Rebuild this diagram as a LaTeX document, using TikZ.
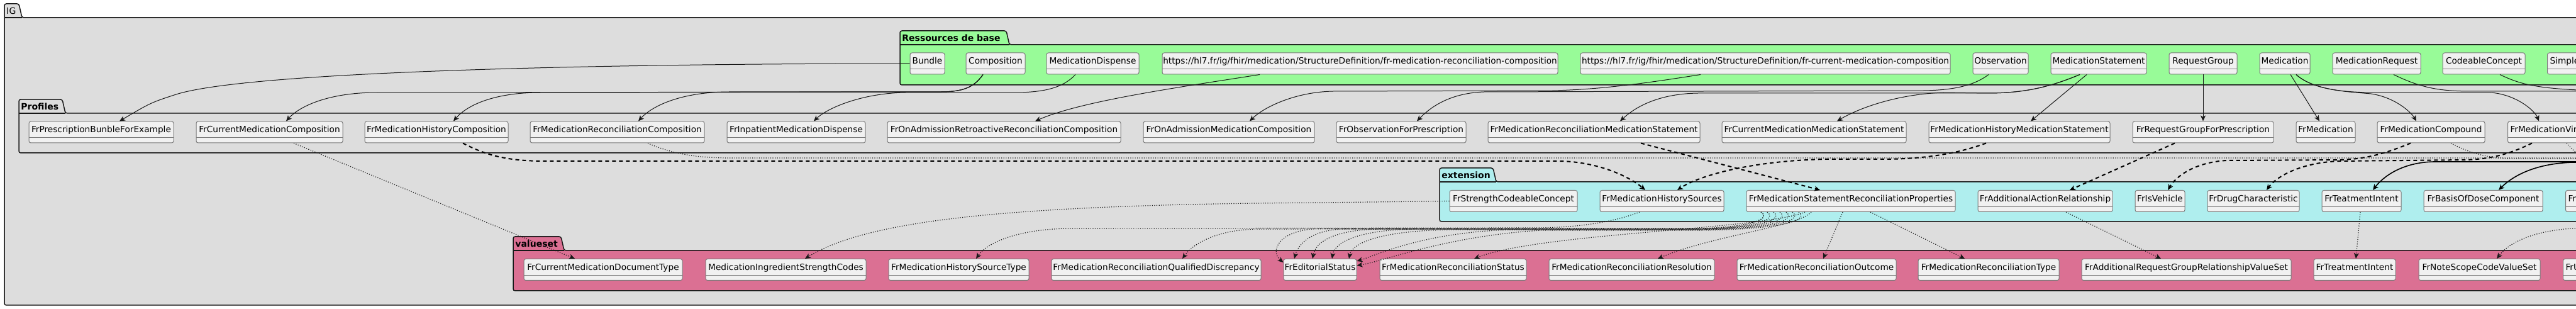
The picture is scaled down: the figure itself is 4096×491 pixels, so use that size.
\documentclass[tikz,border=0pt]{standalone}
\usepackage{fontspec}
\setmainfont{DejaVu Sans}
\usetikzlibrary{arrows.meta}

\definecolor{igbg}{HTML}{DDDDDD}
\definecolor{resbg}{HTML}{98FB98}
\definecolor{extbg}{HTML}{AFEEEE}
\definecolor{vsbg}{HTML}{DB7093}
\definecolor{clsfill}{HTML}{F1F1F1}
\definecolor{clsline}{HTML}{7A7A7A}
\definecolor{lnk}{HTML}{181818}

\tikzset{
  cls/.style={draw=clsline, fill=clsfill, line width=0.5pt, rounded corners=1.5pt,
    inner sep=0pt, minimum width=#1*0.5pt, text height=9pt, text depth=8pt,
    font=\fontsize{6.85}{8}\selectfont,
    path picture={\draw[clsline, line width=0.5pt]
      ([yshift=-13pt]path picture bounding box.north west) --
      ([yshift=-13pt]path picture bounding box.north east);}},
  edgecls/.style={cls=0, anchor=west, inner xsep=2pt},
  pkg/.style={draw=lnk, line width=0.75pt, rounded corners=1.5pt},
  pkgtitle/.style={anchor=west, inner sep=0pt, font=\bfseries\fontsize{7}{8}\selectfont},
}

\begin{document}
\begin{tikzpicture}[x=0.5pt, y=-0.5pt,
  >={Stealth[length=4.5pt,width=4pt,inset=1.2pt]},
  inh/.style={->, lnk, line width=0.5pt},
  usesext/.style={->, black, line width=1pt, dash pattern=on 3pt off 2.5pt},
  bind/.style={->, lnk, line width=0.6pt, dash pattern=on 0.6pt off 1.2pt},
  heavy/.style={->, black, line width=0.8pt}]
\fill[white] (0,0) rectangle (4096,491);
\useasboundingbox (0,0) rectangle (4096,491);

% packages
\draw[pkg, fill=igbg] (7,485) -- (7,6) -- (30,6) -- (35,28) -- (4200,28) -- (4200,485) -- cycle;
\draw[pkg] (7,28) -- (35,28);
\node[pkgtitle, font=\fontsize{7}{8}\selectfont] (igtitle) at (10,17) {IG};

\draw[pkg, fill=resbg] (1431,135) -- (1431,49) -- (1600,49) -- (1605,71) -- (4200,71) -- (4200,135) -- cycle;
\draw[pkg] (1431,71) -- (1605,71);
\node[pkgtitle] (restitle) at (1434,60) {Ressources de base};

\draw[pkg] (30,243) -- (30,158) -- (99,158) -- (104,180) -- (4200,180) -- (4200,243) -- cycle;
\draw[pkg] (30,180) -- (104,180);
\node[pkgtitle] (proftitle) at (33,169) {Profiles};

\draw[pkg, fill=extbg] (2289,352) -- (2289,267) -- (2374,267) -- (2379,289) -- (4200,289) -- (4200,352) -- cycle;
\draw[pkg] (2289,289) -- (2379,289);
\node[pkgtitle] (exttitle) at (2292,278) {extension};

\draw[pkg, fill=vsbg] (816,462) -- (816,376) -- (892,376) -- (897,398) -- (4200,398) -- (4200,462) -- cycle;
\draw[pkg] (816,398) -- (897,398);
\node[pkgtitle] (vstitle) at (819,387) {valueset};

% Ressources de base
\node[cls=55] (r1) at (1474.5,101) {Bundle};
\node[cls=94] (r2) at (1583,101) {Composition};
\node[cls=147] (r3) at (1737.5,101) {MedicationDispense};
\node[cls=629] (r4) at (2162.5,101) {https://hl7.fr/ig/fhir/medication/StructureDefinition/fr-medication-reconciliation-composition};
\node[cls=588] (r5) at (2807,101) {https://hl7.fr/ig/fhir/medication/StructureDefinition/fr-current-medication-composition};
\node[cls=88] (r6) at (3181,101) {Observation};
\node[cls=152] (r7) at (3337,101) {MedicationStatement};
\node[cls=108] (r8) at (3503,101) {RequestGroup};
\node[cls=80] (r9) at (3633,101) {Medication};
\node[cls=140] (r10) at (3779,101) {MedicationRequest};
\node[cls=131] (r11) at (3949.5,101) {CodeableConcept};
\node[edgecls] (r12) at (4050,101) {SimpleQuantity};

% Profiles
\node[cls=230] (p1) at (161,210) {FrPrescriptionBunbleForExample};
\node[cls=233] (p2) at (428.5,210) {FrCurrentMedicationComposition};
\node[cls=228] (p3) at (694,210) {FrMedicationHistoryComposition};
\node[cls=277] (p4) at (981.5,210) {FrMedicationReconciliationComposition};
\node[cls=220] (p5) at (1266,210) {FrInpatientMedicationDispense};
\node[cls=371] (p6) at (1596.5,210) {FrOnAdmissionRetroactiveReconciliationComposition};
\node[cls=272] (p7) at (1954,210) {FrOnAdmissionMedicationComposition};
\node[cls=206] (p8) at (2228,210) {FrObservationForPrescription};
\node[cls=337] (p9) at (2534.5,210) {FrMedicationReconciliationMedicationStatement};
\node[cls=293] (p10) at (2884.5,210) {FrCurrentMedicationMedicationStatement};
\node[cls=288] (p11) at (3211,210) {FrMedicationHistoryMedicationStatement};
\node[cls=224] (p12) at (3503,210) {FrRequestGroupForPrescription};
\node[cls=94] (p13) at (3698,210) {FrMedication};
\node[cls=171] (p14) at (3865.5,210) {FrMedicationCompound};
\node[edgecls] (p15) at (3987,210) {FrMedicationVirtualDrug};

% extension
\node[cls=203] (e1) at (2406.5,319.5) {FrStrengthCodeableConcept};
\node[cls=197] (e2) at (2642.5,319.5) {FrMedicationHistorySources};
\node[cls=332] (e3) at (2943,319.5) {FrMedicationStatementReconciliationProperties};
\node[cls=214] (e4) at (3252,319.5) {FrAdditionalActionRelationship};
\node[cls=79] (e5) at (3434.5,319.5) {FrIsVehicle};
\node[cls=146] (e6) at (3583,319.5) {FrDrugCharacteristic};
\node[cls=126] (e7) at (3755,319.5) {FrTeatmentIntent};
\node[cls=189] (e8) at (3948.5,319.5) {FrBasisOfDoseComponent};
\node[edgecls] (e9) at (4079,319.5) {FrIngredientRole};

% valueset
\node[cls=252] (s1) at (959,428.5) {FrCurrentMedicationDocumentType};
\node[cls=255] (s2) at (1249.5,428.5) {MedicationIngredientStrengthCodes};
\node[cls=223] (s3) at (1524.5,428.5) {FrMedicationHistorySourceType};
\node[cls=333] (s4) at (1838.5,428.5) {FrMedicationReconciliationQualifiedDiscrepancy};
\node[cls=116] (s5) at (2099,428.5) {FrEditorialStatus};
\node[cls=233] (s6) at (2310.5,428.5) {FrMedicationReconciliationStatus};
\node[cls=263] (s7) at (2594.5,428.5) {FrMedicationReconciliationResolution};
\node[cls=253] (s8) at (2888.5,428.5) {FrMedicationReconciliationOutcome};
\node[cls=224] (s9) at (3162,428.5) {FrMedicationReconciliationType};
\node[cls=333] (s10) at (3476.5,428.5) {FrAdditionalRequestGroupRelationshipValueSet};
\node[cls=130] (s11) at (3744,428.5) {FrTreatmentIntent};
\node[cls=193] (s12) at (3942.5,428.5) {FrNoteScopeCodeValueSet};
\node[edgecls] (s13) at (4075,428.5) {FrUnitOfPresentation};

\coordinate (offA) at (4300,145);
\coordinate (offB) at (4300,146);
\coordinate (offC) at (4300,257);
\coordinate (offD) at (4300,258);
\coordinate (offE) at (4300,251);
\coordinate (offF) at (4300,362);
\coordinate (offG) at (4300,252);
\coordinate (offH) at (4300,253);

% base resources -> profiles
\draw[inh] (r1.west) .. controls (1000,101) and (400,112) .. (280,150) .. controls (240,163) .. ([xshift=14.5pt]p1.north);
\draw[inh] ([xshift=-10pt]r2.south) .. controls (1548,140) and (1530,145) .. (1500,146) -- (600,147) .. controls (520,147) and (475,170) .. ([xshift=13.25pt]p2.north);
\draw[inh] ([xshift=-10pt]r2.south) .. controls (1548,140) and (1530,145) .. (1500,146) -- (860,147) .. controls (780,147) and (740,170) .. ([xshift=13.5pt]p3.north);
\draw[inh] ([xshift=-10pt]r2.south) .. controls (1548,140) and (1530,145) .. (1500,146) -- (1160,146) .. controls (1080,146) and (1035,170) .. ([xshift=16.75pt]p4.north);
\draw[inh] ([xshift=-13.75pt]r3.south) .. controls (1690,140) and (1660,146) .. (1620,147) -- (1440,147) .. controls (1370,148) and (1315,172) .. ([xshift=14pt]p5.north);
\draw[inh] ([xshift=-79.75pt]r4.south) .. controls (1880,138) and (1720,160) .. ([xshift=24.75pt]p6.north);
\draw[inh] ([xshift=-51.5pt]r5.south) .. controls (2600,135) and (2540,142) .. (2470,144) -- (2120,145) .. controls (2060,146) and (2010,170) .. ([xshift=16.5pt]p7.north);
\draw[inh] ([xshift=-9.5pt]r6.south) .. controls (3140,135) and (3110,143) .. (3060,144) -- (2360,146) .. controls (2300,148) and (2270,175) .. ([xshift=12.5pt]p8.north);
\draw[inh] ([xshift=-15pt]r7.south) .. controls (3260,138) and (3220,148) .. (3160,148) -- (2700,148) .. controls (2630,149) and (2595,175) .. ([xshift=20.75pt]p9.north);
\draw[inh] ([xshift=-15pt]r7.south) .. controls (3260,138) and (3220,148) .. (3160,148) -- (3090,147) .. controls (3010,150) and (2950,175) .. ([xshift=18.25pt]p10.north);
\draw[inh] ([xshift=-9.5pt]r7.south) -- ([xshift=9pt]p11.north);
\draw[inh] (r8.south) -- (p12.north);
\draw[inh] ([xshift=4.5pt]r9.south) -- ([xshift=-5pt]p13.north);
\draw[inh] ([xshift=9pt]r9.south) .. controls (3680,145) and (3740,146) .. (3770,149) .. controls (3810,155) and (3835,180) .. ([xshift=-11.75pt]p14.north);
\draw[inh] ([xshift=9pt]r9.south) .. controls (3680,145) and (3740,147) .. (3780,147) -- (3960,147) .. controls (4000,150) and (4030,175) .. ([xshift=25pt]p15.north west);
\draw[inh] ([xshift=13.5pt]r10.south) .. controls (3850,140) and (3880,145) .. (3930,145) -- (offA);
\draw[inh] ([xshift=12.75pt]r11.south) .. controls (4020,140) and (4050,146) .. (offB);

% profiles -> extensions
\draw[usesext] ([xshift=21pt]p3.south) .. controls (770,245) and (800,255) .. (860,256) -- (2480,256) .. controls (2540,257) and (2590,280) .. ([xshift=-13.25pt]e2.north);
\draw[usesext] ([xshift=-26.5pt]p11.south) .. controls (3110,245) and (3060,252) .. (3000,253) -- (2900,253) .. controls (2780,256) and (2700,280) .. ([xshift=12.25pt]e2.north);
\draw[usesext] ([xshift=37.25pt]p9.south) -- ([xshift=-24.5pt]e3.north);
\draw[usesext] ([xshift=-22.5pt]p12.south) -- ([xshift=19.5pt]e4.north);
\draw[usesext] ([xshift=-16.25pt]p14.south) .. controls (3790,245) and (3760,253) .. (3720,254) -- (3540,255) .. controls (3490,258) and (3460,280) .. ([xshift=6.25pt]e5.north);
\draw[usesext] ([xshift=19.5pt]p15.south west) .. controls (3990,245) and (3960,253) .. (3920,254) -- (3720,256) .. controls (3660,258) and (3620,280) .. ([xshift=10.5pt]e6.north);
\draw[heavy] (offC) -- (3870,257) .. controls (3820,258) and (3790,280) .. ([xshift=9pt]e7.north);
\draw[heavy] (offD) -- (4090,258) .. controls (4030,260) and (3995,280) .. ([xshift=12.25pt]e8.north);

% bindings
\draw[bind] ([xshift=19.25pt]p2.south) -- ([xshift=-22.5pt]s1.north);
\draw[bind] ([xshift=24.25pt]p4.south) .. controls (1070,245) and (1110,251) .. (1160,251) -- (offE);
\draw[bind] ([xshift=15.75pt]p14.south) .. controls (3930,245) and (3960,252) .. (4000,252) -- (offG);
\draw[bind] ([xshift=47pt]p15.south west) .. controls (4100,248) .. (4150,253) -- (offH);
\draw[bind] (e1.west) -- (2100,322) .. controls (1600,325) and (1380,350) .. ([xshift=15.25pt]s2.north);
\draw[bind] ([xshift=-17.75pt]e2.south) .. controls (2560,355) and (2500,362) .. (2440,362) -- (1700,363) .. controls (1620,364) and (1570,385) .. ([xshift=13.75pt]s3.north);
\draw[bind] ([xshift=-71.5pt]e3.south) .. controls (2820,350) and (2770,362) .. (2700,363) -- (2000,364) .. controls (1930,365) and (1895,390) .. ([xshift=20.75pt]s4.north);
\draw[bind] ([xshift=-71.5pt]e3.south) .. controls (2820,350) and (2770,362) .. (2700,363) -- (2100,363) .. controls (2030,365) and (2020,400) .. ([yshift=5.75pt]s5.west);
\draw[bind] ([xshift=-66.5pt]e3.south) .. controls (2830,352) and (2770,363) .. (2700,364) -- (2140,364) .. controls (2090,364) and (2065,385) .. ([xshift=-20.5pt]s5.north);
\draw[bind] ([xshift=-61.5pt]e3.south) .. controls (2840,352) and (2780,363) .. (2700,364) -- (2200,364) .. controls (2120,364) and (2092,385) .. ([xshift=-6pt]s5.north);
\draw[bind] ([xshift=-56.5pt]e3.south) .. controls (2850,352) and (2790,363) .. (2700,364) -- (2260,364) .. controls (2160,364) and (2122,385) .. ([xshift=9.5pt]s5.north);
\draw[bind] ([xshift=-51.5pt]e3.south) .. controls (2860,352) and (2800,364) .. (2700,365) -- (2320,365) .. controls (2200,365) and (2150,385) .. ([xshift=23pt]s5.north);
\draw[bind] ([xshift=-46.5pt]e3.south) .. controls (2870,352) and (2810,364) .. (2700,365) -- (2400,365) .. controls (2260,370) and (2190,405) .. ([yshift=6.75pt]s5.east);
\draw[bind] ([xshift=-41.5pt]e3.south) .. controls (2880,352) and (2820,365) .. (2700,366) -- (2450,366) .. controls (2300,375) and (2200,415) .. ([yshift=3.25pt]s5.east);
\draw[bind] ([xshift=-36.5pt]e3.south) .. controls (2800,365) and (2450,370) .. ([xshift=16.75pt]s6.north);
\draw[bind] ([xshift=-31.5pt]e3.south) .. controls (2860,360) and (2720,375) .. ([xshift=20.75pt]s7.north);
\draw[bind] ([xshift=-6.5pt]e3.south) -- ([xshift=5.25pt]s8.north);
\draw[bind] ([xshift=15.5pt]e3.south) -- ([xshift=-19pt]s9.north);
\draw[bind] ([xshift=16.5pt]e4.south) -- ([xshift=-20.25pt]s10.north);
\draw[bind] ([xshift=-1pt]e7.south) -- ([xshift=1pt]s11.north);
\draw[bind] (offF) -- (4110,362) .. controls (4030,364) and (3990,385) .. ([xshift=13.75pt]s12.north);
\end{tikzpicture}
\end{document}
